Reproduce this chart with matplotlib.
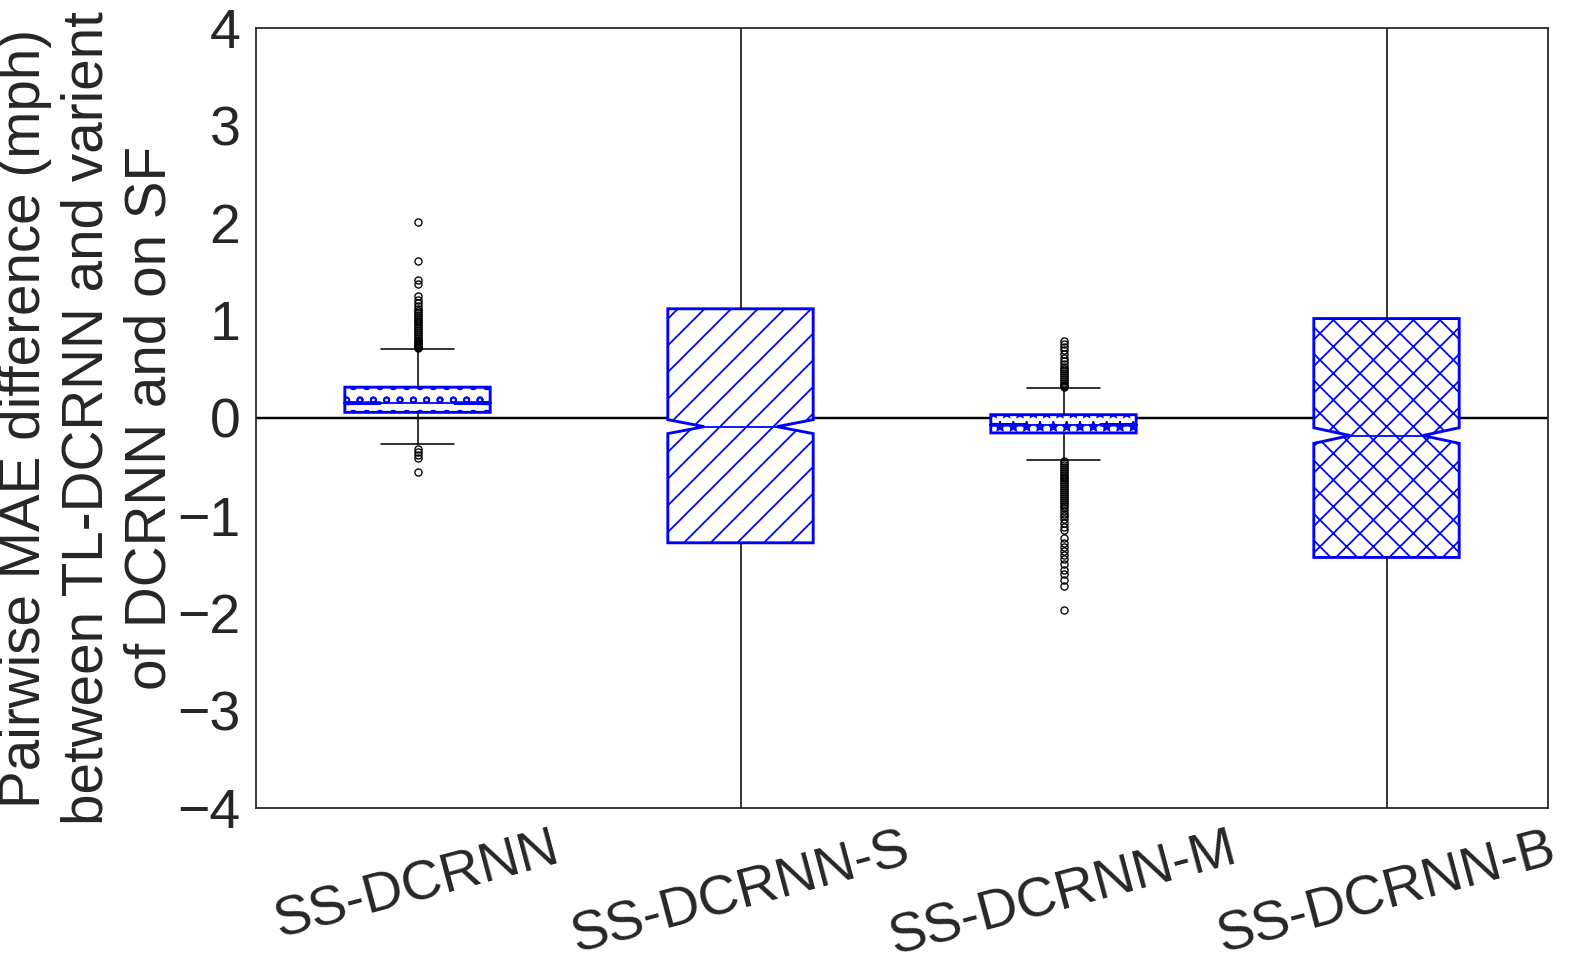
import numpy as np
import seaborn as sns
from matplotlib import pyplot as plt

sns.set_style("white")
plt.rcParams['font.family'] = ['Liberation Sans', 'DejaVu Sans']
plt.rcParams['hatch.linewidth'] = 0.8

labels = ["SS-DCRNN", "SS-DCRNN-S", "SS-DCRNN-M", "SS-DCRNN-B"]
hatches = ["oo", "//", "**", "xx"]

q1 = [0.058, -1.28, -0.153, -1.43]
med = [0.153, -0.089, -0.07, -0.18]
q3 = [0.316, 1.12, 0.034, 1.02]
whislo = [-0.27, -4.6, -0.43, -4.6]
whishi = [0.71, 4.6, 0.306, 4.6]
cilo = [0.145, -0.16, -0.076, -0.26]
cihi = [0.161, -0.017, -0.064, -0.10]

fliers_1 = [2.01, 1.61, 1.42, 1.37, 1.25, 1.21, 1.18, 1.15, 1.12, 1.10, 1.08,
            1.06, 1.04, 1.02, 1.00, 0.98, 0.96, 0.94, 0.92, 0.90, 0.88, 0.86,
            0.84, 0.82, 0.80, 0.79, 0.78, 0.77, 0.76, 0.75, 0.74, 0.73, 0.72,
            -0.32, -0.35, -0.38, -0.41, -0.55]
fliers_2 = []
fliers_3 = [0.79, 0.76, 0.73, 0.70, 0.66, 0.62, 0.58, 0.55, 0.52, 0.50, 0.48,
            0.46, 0.44, 0.42, 0.40, 0.38, 0.36, 0.34, 0.33, 0.32,
            -0.44, -0.46, -0.48, -0.50, -0.52, -0.54, -0.56, -0.58, -0.60,
            -0.62, -0.64, -0.66, -0.68, -0.70, -0.72, -0.74, -0.76, -0.78,
            -0.80, -0.82, -0.84, -0.86, -0.88, -0.90, -0.92, -0.95, -0.98,
            -1.01, -1.04, -1.08, -1.12, -1.15, -1.23, -1.28, -1.32, -1.36,
            -1.40, -1.45, -1.50, -1.56, -1.60, -1.66, -1.72, -1.97]
fliers_4 = []
fliers = [fliers_1, fliers_2, fliers_3, fliers_4]

stats = []
for i in range(4):
    stats.append(dict(label=labels[i], q1=q1[i], med=med[i], q3=q3[i],
                      whislo=whislo[i], whishi=whishi[i],
                      cilo=cilo[i], cihi=cihi[i], fliers=np.array(fliers[i])))

fig = plt.figure(figsize=(1579 / 160, 973 / 160), dpi=160)
ax = fig.add_axes([256 / 1579, 1 - 808 / 973, (1548 - 256) / 1579, (808 - 28) / 973])

bp = ax.bxp(stats, positions=[1, 2, 3, 4], widths=0.45, shownotches=True,
            patch_artist=True,
            boxprops=dict(edgecolor="blue", facecolor="white", linewidth=1.3),
            medianprops=dict(color="blue", linewidth=0.8),
            whiskerprops=dict(color="black", linewidth=0.7),
            capprops=dict(color="black", linewidth=0.7),
            flierprops=dict(marker="o", markerfacecolor="none",
                            markeredgecolor="black", markersize=3.2,
                            markeredgewidth=0.6))
for patch, h in zip(bp["boxes"], hatches):
    patch.set_hatch(h)

ax.axhline(0, color="black", linewidth=1.1, zorder=0.5)
ax.set_xlim(0.5, 4.5)
ax.set_ylim(-4, 4)
ax.set_yticks(range(-4, 5))
ax.tick_params(axis="both", labelsize=25)
ax.set_xticklabels(labels, rotation=15)
for s in ax.spines.values():
    s.set_color("#262626")
    s.set_linewidth(0.8)
ax.set_ylabel("Pairwise MAE difference (mph)\nbetween TL-DCRNN and varient\nof DCRNN and on SF",
              fontsize=25.5, labelpad=0)

fig.savefig("out.png", dpi=160)
